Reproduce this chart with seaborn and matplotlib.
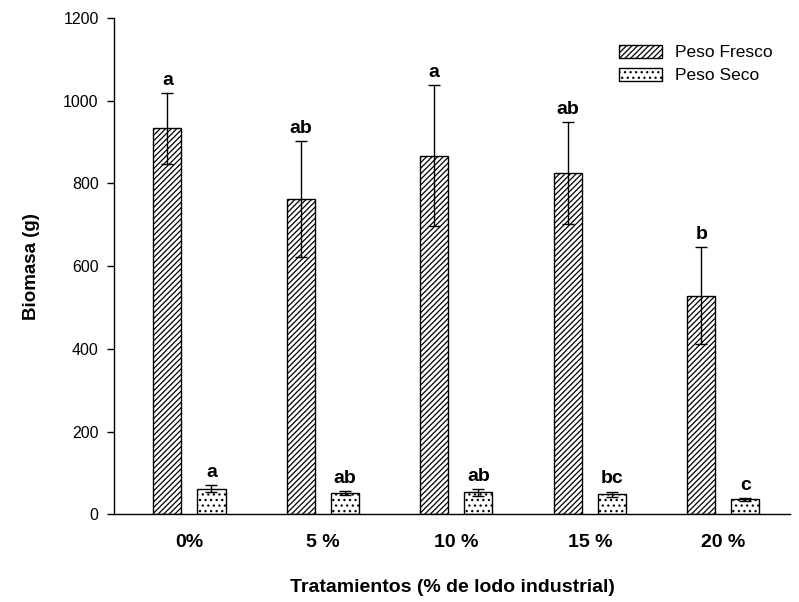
import matplotlib
matplotlib.use("Agg")
import matplotlib.pyplot as plt
import seaborn as sns
import pandas as pd

# Treatments (% industrial sludge) and biomass per treatment
tratamientos = ["0%", "5 %", "10 %", "15 %", "20 %"]
series = ["Peso Fresco", "Peso Seco"]

peso_fresco = [933, 763, 867, 825, 529]
peso_fresco_err = [86, 140, 170, 123, 118]
peso_fresco_letras = ["a", "ab", "a", "ab", "b"]

peso_seco = [62, 51, 53, 48, 36]
peso_seco_err = [9, 5, 8, 7, 4]
peso_seco_letras = ["a", "ab", "ab", "bc", "c"]

y_ticks = [0, 200, 400, 600, 800, 1000, 1200]

df = pd.DataFrame({
    "Tratamiento": tratamientos * 2,
    "Serie": [series[0]] * len(tratamientos) + [series[1]] * len(tratamientos),
    "Biomasa": peso_fresco + peso_seco,
})

sns.set_theme(style="ticks")
plt.rcParams["font.family"] = ["Liberation Sans", "DejaVu Sans"]
plt.rcParams["hatch.linewidth"] = 0.9
for key in ["text.color", "axes.labelcolor", "xtick.color", "ytick.color",
            "axes.edgecolor"]:
    plt.rcParams[key] = "black"

fig = plt.figure(figsize=(7.99, 6.02), dpi=100)
ax = fig.add_axes([0.1427, 0.1457, 0.8460, 0.8243])

sns.barplot(
    data=df, x="Tratamiento", y="Biomasa", hue="Serie",
    order=tratamientos, hue_order=series,
    palette={series[0]: "white", series[1]: "white"},
    edgecolor="black", linewidth=1.0,
    width=0.66, gap=0.36, errorbar=None, ax=ax,
)

hatches = ["//////", "..."]
errs = [peso_fresco_err, peso_seco_err]
vals = [peso_fresco, peso_seco]
letras = [peso_fresco_letras, peso_seco_letras]

for cont, hatch, err, val, lab in zip(ax.containers, hatches, errs, vals, letras):
    xs = []
    for patch in cont:
        patch.set_hatch(hatch)
        patch.set_edgecolor("black")
        xs.append(patch.get_x() + patch.get_width() / 2)
    ax.errorbar(xs, val, yerr=err, fmt="none", ecolor="black",
                elinewidth=1.0, capsize=4.5, capthick=1.0, zorder=5)
    for x, v, e, t in zip(xs, val, err, lab):
        ax.annotate(t, (x, v + e), xytext=(0, 3), textcoords="offset points",
                    ha="center", va="bottom", fontsize=14, fontweight="bold")

ax.set_xlim(-0.565, 4.5)
ax.set_ylim(0, 1200)
ax.set_yticks(y_ticks)
ax.tick_params(axis="y", direction="out", length=5, width=1, labelsize=11.5,
               pad=6, color="black", labelcolor="black")
ax.tick_params(axis="x", length=0, labelsize=14, pad=14, labelcolor="black")
for lbl in ax.get_xticklabels():
    lbl.set_fontweight("bold")

ax.set_xlabel("Tratamientos (% de lodo industrial)", fontsize=14,
              fontweight="bold", labelpad=20)
ax.set_ylabel("Biomasa (g)", fontsize=13.5, fontweight="bold", labelpad=17)

sns.despine(ax=ax)
for side in ["left", "bottom"]:
    ax.spines[side].set_color("black")
    ax.spines[side].set_linewidth(1.0)

leg = ax.get_legend()
if leg is not None:
    leg.remove()
ax.legend([ax.containers[0][0], ax.containers[1][0]], series,
          loc="upper right", bbox_to_anchor=(0.985, 0.96), frameon=False,
          fontsize=12.5, handlelength=2.5, handleheight=0.75,
          handletextpad=0.75, labelspacing=0.45, borderaxespad=0)

fig.savefig("out.png", dpi=100, facecolor="white")
